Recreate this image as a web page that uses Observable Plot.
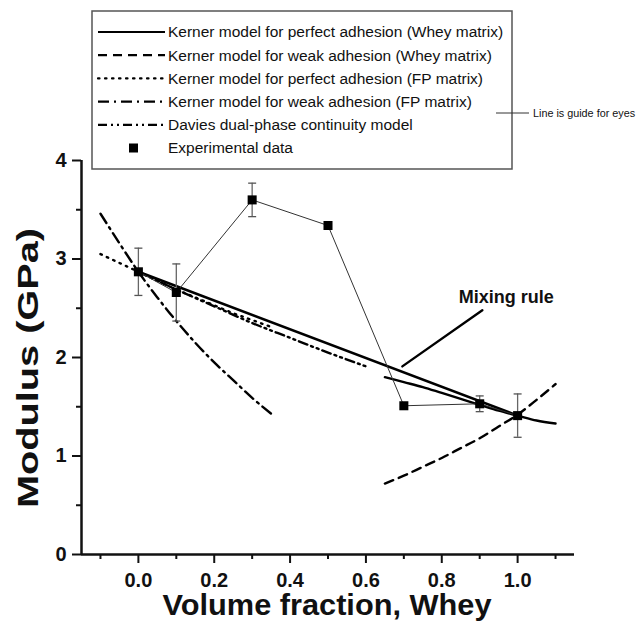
<!DOCTYPE html>
<html><head><meta charset="utf-8">
<script src="https://cdn.jsdelivr.net/npm/d3@7"></script>
<script src="https://cdn.jsdelivr.net/npm/@observablehq/plot@0.6"></script>
<style>body{margin:0;background:#fff;} svg{display:block;}</style>
</head><body><div id="chart"></div>
<script>
// Experimental data
const expX   = [0.0, 0.1, 0.3, 0.5, 0.7, 0.9, 1.0];
const expY   = [2.87, 2.66, 3.60, 3.34, 1.51, 1.53, 1.41];
const expErr = [0.24, 0.29, 0.17, 0.0, 0.0, 0.08, 0.22];

// Mixing rule
const mixX = [0.0, 1.0];
const mixY = [2.87, 1.41];

// Kerner perfect adhesion (Whey matrix)
const kpwX = [0.65, 0.70, 0.75, 0.80, 0.85, 0.90, 0.95, 1.00, 1.05, 1.10];
const kpwY = [1.80, 1.75, 1.70, 1.64, 1.58, 1.52, 1.46, 1.41, 1.36, 1.33];

// Kerner weak adhesion (Whey matrix)
const kwwX = [0.65, 0.70, 0.75, 0.80, 0.85, 0.90, 0.95, 1.00, 1.05, 1.10];
const kwwY = [0.72, 0.80, 0.89, 0.98, 1.08, 1.18, 1.30, 1.42, 1.57, 1.73];

// Kerner perfect adhesion (FP matrix)
const kpfX = [-0.10, -0.05, 0.00, 0.05, 0.10, 0.15, 0.20, 0.25, 0.30, 0.35];
const kpfY = [3.05, 2.96, 2.87, 2.78, 2.69, 2.61, 2.53, 2.45, 2.38, 2.31];

// Kerner weak adhesion (FP matrix)
const kwfX = [-0.10, -0.05, 0.00, 0.05, 0.10, 0.15, 0.20, 0.25, 0.30, 0.35];
const kwfY = [3.46, 3.16, 2.87, 2.61, 2.37, 2.15, 1.95, 1.77, 1.59, 1.43];

// Davies dual-phase continuity model
const davX = [0.0, 0.1, 0.2, 0.3, 0.4, 0.5, 0.6];
const davY = [2.87, 2.69, 2.52, 2.35, 2.20, 2.05, 1.91];

// Ticks
const xMajor = [0.0, 0.2, 0.4, 0.6, 0.8, 1.0];
const xMinor = [-0.1, 0.1, 0.3, 0.5, 0.7, 0.9, 1.1];
const yMajor = [0, 1, 2, 3, 4];
const yMinor = [0.5, 1.5, 2.5, 3.5];

// Annotation pointer (Mixing rule)
const ptrX = [0.696, 0.907];
const ptrY = [1.91, 2.48];

const legendItems = [
  {label: "Kerner model for perfect adhesion (Whey matrix)", dash: null},
  {label: "Kerner model for weak adhesion (Whey matrix)", dash: "9,6"},
  {label: "Kerner model for perfect adhesion (FP matrix)", dash: "1.5,5.5"},
  {label: "Kerner model for weak adhesion (FP matrix)", dash: "11,5,2,5"},
  {label: "Davies dual-phase continuity model", dash: "9,4,2,4,2,4"},
  {label: "Experimental data", square: true}
];

const capSymbol = {draw(ctx, size) { const w = Math.sqrt(size / Math.PI); ctx.moveTo(-w, 0); ctx.lineTo(w, 0); }};

const errIdx = expX.map((_, i) => i).filter(i => expErr[i] > 0);
const eX = errIdx.map(i => expX[i]);
const eLo = errIdx.map(i => expY[i] - expErr[i]);
const eHi = errIdx.map(i => expY[i] + expErr[i]);

const W = 640, H = 621;
const plot = Plot.plot({
  width: W, height: H,
  marginLeft: 81, marginRight: 66, marginTop: 160, marginBottom: 67,
  style: {fontFamily: "'Liberation Sans', Arial, sans-serif", fontSize: "20px", fontWeight: "bold", color: "#111", background: "#fff"},
  x: {domain: [-0.15, 1.15]},
  y: {domain: [0, 4]},
  marks: [
    Plot.axisX({ticks: xMajor, tickFormat: d3.format(".1f"), tickSize: 9, tickPadding: 9, strokeWidth: 2, label: null, fontSize: 20}),
    Plot.axisX({ticks: xMinor, tickSize: 5, strokeWidth: 2, text: null, label: null}),
    Plot.axisY({ticks: yMajor, tickFormat: d3.format("d"), tickSize: 9, tickPadding: 6, strokeWidth: 2, label: null, fontSize: 20}),
    Plot.axisY({ticks: yMinor, tickSize: 5, strokeWidth: 2, text: null, label: null}),
    // model curves
    Plot.line(mixY, {x: mixX, y: mixY, stroke: "#000", strokeWidth: 2.6}),
    Plot.line(kpwY, {x: kpwX, y: kpwY, stroke: "#000", strokeWidth: 2.4, curve: "monotone-x"}),
    Plot.line(kwwY, {x: kwwX, y: kwwY, stroke: "#000", strokeWidth: 2.4, strokeDasharray: "9,6", curve: "monotone-x"}),
    Plot.line(kpfY, {x: kpfX, y: kpfY, stroke: "#000", strokeWidth: 2.4, strokeDasharray: "1.5,5.5", strokeLinecap: "round", curve: "monotone-x"}),
    Plot.line(kwfY, {x: kwfX, y: kwfY, stroke: "#000", strokeWidth: 2.4, strokeDasharray: "11,5,2,5", curve: "monotone-x"}),
    Plot.line(davY, {x: davX, y: davY, stroke: "#000", strokeWidth: 2.4, strokeDasharray: "9,4,2,4,2,4", curve: "monotone-x"}),
    // experimental guide line
    Plot.line(expY, {x: expX, y: expY, stroke: "#333", strokeWidth: 1}),
    // error bars
    Plot.ruleX(eX, {x: eX, y1: eLo, y2: eHi, stroke: "#666", strokeWidth: 1.3}),
    Plot.dot(eX, {x: eX, y: eLo, symbol: capSymbol, r: 4, stroke: "#555", fill: "none", strokeWidth: 1.3}),
    Plot.dot(eX, {x: eX, y: eHi, symbol: capSymbol, r: 4, stroke: "#555", fill: "none", strokeWidth: 1.3}),
    // markers
    Plot.dot(expY, {x: expX, y: expY, symbol: "square", r: 5.1, fill: "#000", stroke: "none"}),
    // mixing rule annotation
    Plot.line(ptrY, {x: ptrX, y: ptrY, stroke: "#000", strokeWidth: 2.4}),
    Plot.text(["Mixing rule"], {x: [0.97], y: [2.61], fontSize: 18, fontWeight: "bold", fill: "#111", textAnchor: "middle"}),
    // axis lines
    Plot.ruleY([0], {stroke: "#111", strokeWidth: 2.5}),
    Plot.ruleX([-0.15], {stroke: "#111", strokeWidth: 2.5})
  ]
});

const svg = d3.select(plot);
// Axis titles
svg.append("text").attr("x", 327).attr("y", 615).attr("text-anchor", "middle")
  .attr("font-size", 29).attr("font-weight", "bold").attr("fill", "#111")
  .attr("textLength", 329).attr("lengthAdjust", "spacingAndGlyphs")
  .text("Volume fraction, Whey");
svg.append("text").attr("transform", "translate(38,368) rotate(-90)").attr("text-anchor", "middle")
  .attr("font-size", 30).attr("font-weight", "bold").attr("fill", "#111")
  .attr("textLength", 280).attr("lengthAdjust", "spacingAndGlyphs")
  .text("Modulus (GPa)");

// Legend
const lg = svg.append("g").attr("font-family", "'Liberation Sans', Arial, sans-serif")
  .attr("font-weight", "normal").attr("text-anchor", "start");
lg.append("rect").attr("x", 92).attr("y", 11).attr("width", 420).attr("height", 158)
  .attr("fill", "#fff").attr("stroke", "#555").attr("stroke-width", 1.5);
legendItems.forEach((d, i) => {
  const cy = 32 + i * 23.2;
  if (d.square) {
    lg.append("rect").attr("x", 129).attr("y", cy - 4.5).attr("width", 9).attr("height", 9).attr("fill", "#000");
  } else {
    const l = lg.append("line").attr("x1", 98).attr("x2", 165).attr("y1", cy).attr("y2", cy)
      .attr("stroke", "#000").attr("stroke-width", 2.2);
    if (d.dash) l.attr("stroke-dasharray", d.dash);
    if (d.dash === "1.5,5.5") l.attr("stroke-linecap", "round");
  }
  lg.append("text").attr("x", 168).attr("y", cy).attr("dy", "0.35em")
    .attr("font-size", 15.5).attr("fill", "#111").text(d.label);
});

// "Line is guide for eyes" note
const note = svg.append("g").attr("font-family", "'Liberation Sans', Arial, sans-serif")
  .attr("font-weight", "normal").attr("text-anchor", "start");
note.append("line").attr("x1", 496).attr("x2", 529).attr("y1", 113).attr("y2", 113).attr("stroke", "#333").attr("stroke-width", 1);
note.append("text").attr("x", 533).attr("y", 113).attr("dy", "0.35em").attr("font-size", 10.8).attr("fill", "#111").text("Line is guide for eyes");

document.getElementById("chart").appendChild(plot);
</script>
</body></html>
